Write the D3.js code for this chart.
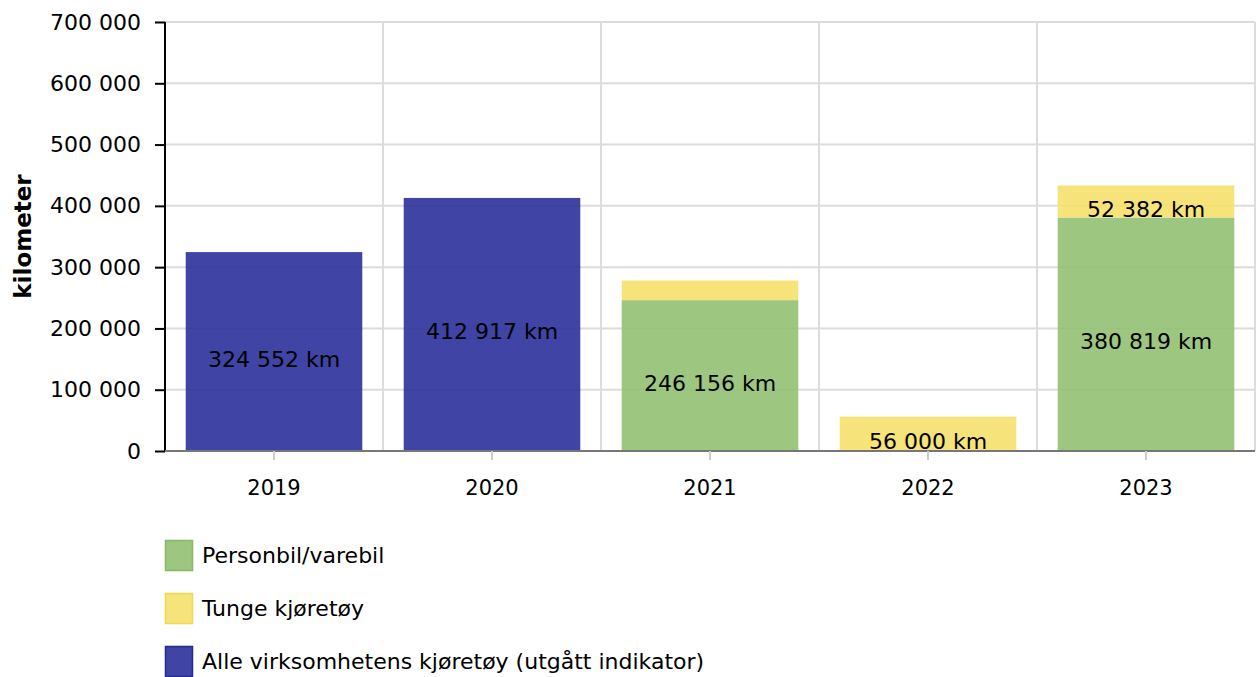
<!DOCTYPE html>
<html>
<head>
<meta charset="utf-8">
<script src="https://cdn.jsdelivr.net/npm/d3@7"></script>
<style>
  body { margin: 0; background: #fff; }
  svg text { font-family: "DejaVu Sans", Verdana, sans-serif; }
</style>
</head>
<body>
<svg width="1259" height="677"></svg>
<script>
var years = ["2019", "2020", "2021", "2022", "2023"];
var personbil = [0, 0, 246156, 0, 380819];
var tunge = [0, 0, 32000, 56000, 52382];
var alle = [324552, 412917, 0, 0, 0];

var seriesKeys = ["personbil", "tunge", "alle"];
var seriesNames = ["Personbil/varebil", "Tunge kjøretøy", "Alle virksomhetens kjøretøy (utgått indikator)"];
var seriesColors = ["#92c072", "#f5e06b", "#2a309b"];
var legendStroke = ["#86b866", "#f0d850", "#232a90"];
var yTicks = [0, 100000, 200000, 300000, 400000, 500000, 600000, 700000];

var svg = d3.select("svg"),
    margin = {top: 22, right: 4, bottom: 226, left: 165},
    width = +svg.attr("width") - margin.left - margin.right,
    height = +svg.attr("height") - margin.top - margin.bottom;

var table = years.map(function(y, i) {
  return {year: y, personbil: personbil[i], tunge: tunge[i], alle: alle[i]};
});

var stack = d3.stack().keys(seriesKeys);
var layers = stack(table);

// band scale: one band per year, bars take ~81% of each band
var x = d3.scaleBand().domain(years).range([0, width]).paddingInner(0.19).paddingOuter(0.095);
var y = d3.scaleLinear().domain([0, 700000]).range([height, 0]);

var fmt = function(v) { return d3.format(",")(v).replace(/,/g, " "); };

var g = svg.append("g").attr("transform", "translate(" + margin.left + "," + margin.top + ")");

// horizontal grid
g.append("g").selectAll("line")
  .data(yTicks)
  .enter().append("line")
    .attr("x1", 0).attr("x2", width)
    .attr("y1", function(d) { return y(d); })
    .attr("y2", function(d) { return y(d); })
    .attr("stroke", "#dcdcdc").attr("stroke-width", 2);

// vertical grid at band boundaries
var bandW = width / years.length;
g.append("g").selectAll("line")
  .data(d3.range(1, years.length + 1))
  .enter().append("line")
    .attr("x1", function(i) { return i * bandW; })
    .attr("x2", function(i) { return i * bandW; })
    .attr("y1", 0).attr("y2", height)
    .attr("stroke", "#dcdcdc").attr("stroke-width", 2);

// bars
var barX = function(d) { return x(d.data.year); };
var barW = x.bandwidth();

layers.forEach(function(layer, li) {
  g.append("g").selectAll("rect")
    .data(layer.filter(function(d) { return d[1] > d[0]; }))
    .enter().append("rect")
      .attr("x", barX)
      .attr("width", barW)
      .attr("y", function(d) { return y(d[1]); })
      .attr("height", function(d) { return y(d[0]) - y(d[1]); })
      .attr("fill", seriesColors[li])
      .attr("fill-opacity", 0.9);
});

// value labels (small segments get none)
layers.forEach(function(layer, li) {
  g.append("g").selectAll("text")
    .data(layer.filter(function(d) { return y(d[0]) - y(d[1]) > 25; }))
    .enter().append("text")
      .attr("x", function(d) { return barX(d) + barW / 2; })
      .attr("y", function(d) { return (y(d[0]) + y(d[1])) / 2 + 15; })
      .attr("text-anchor", "middle")
      .attr("font-size", "22px")
      .attr("fill", "#000")
      .text(function(d) { return fmt(d[1] - d[0]) + " km"; });
});

// y axis
var yAxis = g.append("g")
  .call(d3.axisLeft(y).tickValues(yTicks).tickSize(10).tickPadding(14).tickFormat(fmt));
yAxis.select(".domain").attr("stroke", "#000").attr("stroke-width", 2).attr("d", "M0," + height + "V0");
yAxis.selectAll(".tick line").attr("stroke", "#000").attr("stroke-width", 2);
yAxis.selectAll("text").attr("font-size", "22px").attr("fill", "#000")
  .style("font-family", "'DejaVu Sans', Verdana, sans-serif");

// x axis
var xAxis = g.append("g")
  .attr("transform", "translate(0," + height + ")")
  .call(d3.axisBottom(x).tickSize(9).tickPadding(20));
xAxis.select(".domain").attr("stroke", "#777").attr("stroke-width", 2).attr("d", "M0,0H" + width);
xAxis.selectAll(".tick line").attr("stroke", "#ccc").attr("stroke-width", 2);
xAxis.selectAll("text").attr("font-size", "21px").attr("fill", "#000")
  .style("font-family", "'DejaVu Sans', Verdana, sans-serif");

// y axis title
svg.append("text")
  .attr("transform", "translate(31," + (margin.top + height / 2) + ") rotate(-90)")
  .attr("text-anchor", "middle")
  .attr("font-size", "23px")
  .attr("font-weight", "bold")
  .text("kilometer");

// legend
var legend = svg.append("g").attr("transform", "translate(165,540)");
var item = legend.selectAll("g")
  .data(seriesNames)
  .enter().append("g")
    .attr("transform", function(d, i) { return "translate(0," + (i * 53) + ")"; });
item.append("rect")
  .attr("x", 0.5).attr("y", 0.5)
  .attr("width", 27).attr("height", 30)
  .attr("fill", function(d, i) { return seriesColors[i]; })
  .attr("fill-opacity", 0.9)
  .attr("stroke", function(d, i) { return legendStroke[i]; })
  .attr("stroke-width", 1.5);
item.append("text")
  .attr("x", 37).attr("y", 23)
  .attr("font-size", "22px")
  .text(function(d) { return d; });
</script>
</body>
</html>
